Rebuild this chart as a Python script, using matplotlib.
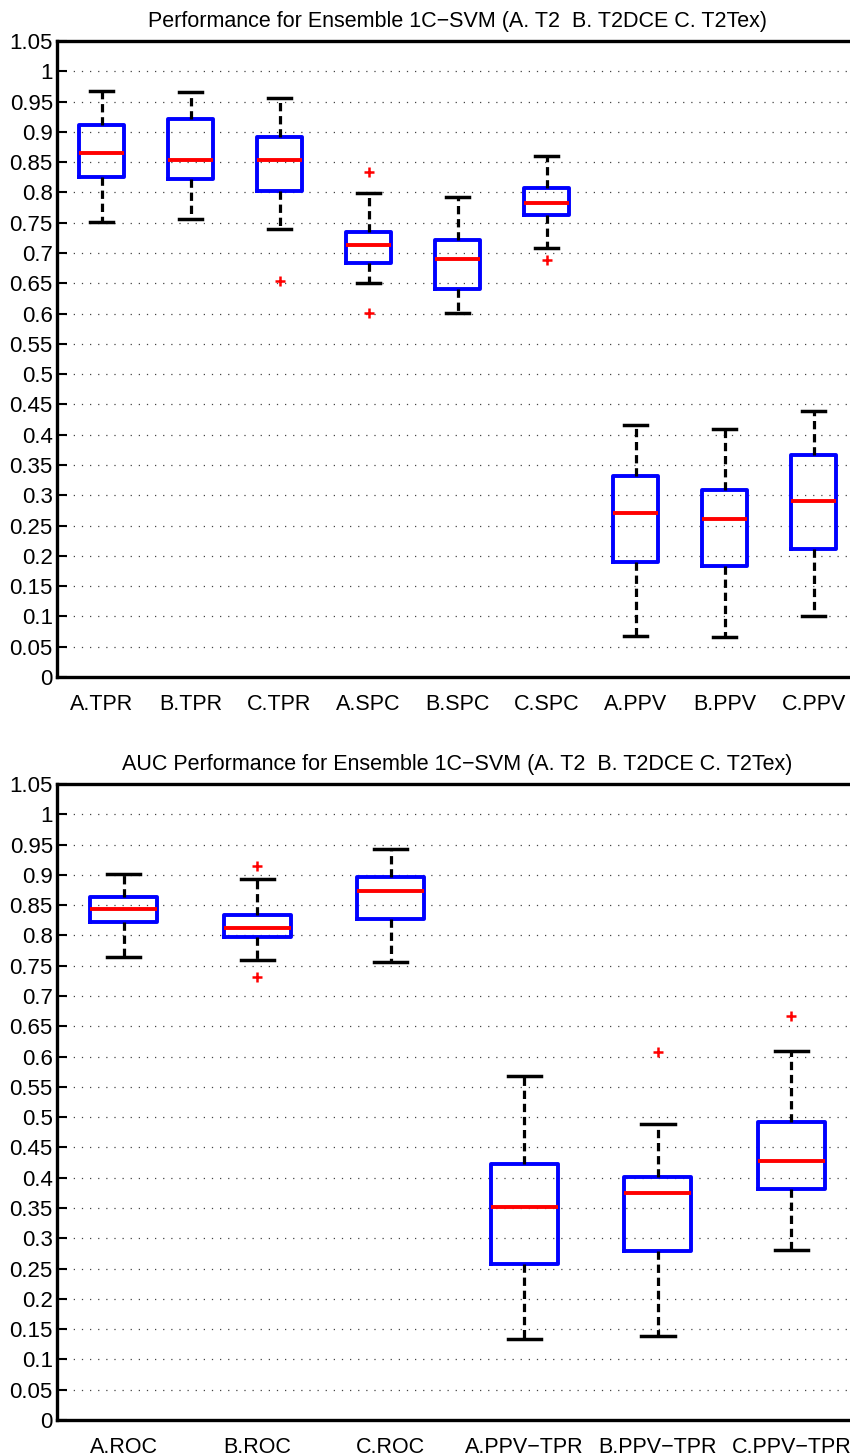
import matplotlib.pyplot as plt
from matplotlib.ticker import FuncFormatter, MultipleLocator

plt.rcParams['font.family'] = ['Liberation Sans', 'DejaVu Sans']

# top panel: TPR / SPC / PPV for the three feature sets
top_title = "Performance for Ensemble 1C\u2212SVM (A. T2  B. T2DCE C. T2Tex)"
top_labels = ["A.TPR", "B.TPR", "C.TPR", "A.SPC", "B.SPC", "C.SPC", "A.PPV", "B.PPV", "C.PPV"]
top_whishi = [0.968, 0.966, 0.956, 0.799, 0.793, 0.860, 0.416, 0.409, 0.439]
top_q3 = [0.911, 0.921, 0.891, 0.734, 0.721, 0.807, 0.332, 0.308, 0.366]
top_med = [0.866, 0.854, 0.854, 0.713, 0.691, 0.782, 0.271, 0.261, 0.290]
top_q1 = [0.826, 0.823, 0.802, 0.683, 0.640, 0.763, 0.190, 0.184, 0.211]
top_whislo = [0.752, 0.757, 0.740, 0.651, 0.601, 0.709, 0.068, 0.066, 0.100]
top_fliers = [[], [], [0.654], [0.834, 0.601], [], [0.688], [], [], []]

# bottom panel: AUC values
bot_title = "AUC Performance for Ensemble 1C\u2212SVM (A. T2  B. T2DCE C. T2Tex)"
bot_labels = ["A.ROC", "B.ROC", "C.ROC", "A.PPV\u2212TPR", "B.PPV\u2212TPR", "C.PPV\u2212TPR"]
bot_whishi = [0.901, 0.893, 0.943, 0.568, 0.489, 0.609]
bot_q3 = [0.863, 0.834, 0.897, 0.422, 0.401, 0.492]
bot_med = [0.844, 0.812, 0.874, 0.352, 0.375, 0.428]
bot_q1 = [0.822, 0.797, 0.828, 0.258, 0.279, 0.381]
bot_whislo = [0.764, 0.759, 0.757, 0.134, 0.139, 0.280]
bot_fliers = [[], [0.914, 0.731], [], [], [0.608], [0.667]]


def draw_panel(ax, title, labels, lo, q1, med, q3, hi, fliers):
    stats = []
    for i in range(len(labels)):
        stats.append(dict(whislo=lo[i], q1=q1[i], med=med[i], q3=q3[i],
                          whishi=hi[i], fliers=fliers[i], label=labels[i]))
    ax.bxp(stats, widths=0.5, showfliers=True,
           boxprops=dict(color="#0000ff", linewidth=2.8),
           medianprops=dict(color="#ff0000", linewidth=2.8),
           whiskerprops=dict(color="black", linewidth=2.3, linestyle=(0, (2.6, 1.5))),
           capprops=dict(color="black", linewidth=2.5),
           flierprops=dict(marker="+", markeredgecolor="#ff0000", markersize=7,
                           markeredgewidth=1.8, linestyle="none"))
    n = len(labels)
    ax.set_xlim(0.5, n + 0.5)
    ax.set_ylim(0, 1.05)
    ax.yaxis.set_major_locator(MultipleLocator(0.05))
    ax.yaxis.set_major_formatter(FuncFormatter(lambda v, p: "%g" % round(v, 2)))
    ax.yaxis.grid(True, color="#444444", linewidth=0.9, linestyle=(0, (1, 5.5)))
    ax.set_axisbelow(True)
    ax.tick_params(axis="y", direction="in", length=7, width=1.5, labelsize=16, pad=3)
    ax.tick_params(axis="x", length=0, labelsize=15.5, pad=12)
    for s in ax.spines.values():
        s.set_linewidth(2.4)
    ax.set_title(title, fontsize=15.5, pad=10)


fig = plt.figure(figsize=(8.5, 14.56), dpi=100)
ax1 = fig.add_axes([0.0671, 0.535, 0.9424, 0.4368])
ax2 = fig.add_axes([0.0671, 0.0247, 0.9424, 0.4368])

draw_panel(ax1, top_title, top_labels, top_whislo, top_q1, top_med, top_q3, top_whishi, top_fliers)
draw_panel(ax2, bot_title, bot_labels, bot_whislo, bot_q1, bot_med, bot_q3, bot_whishi, bot_fliers)

fig.savefig("out.png", dpi=100)
